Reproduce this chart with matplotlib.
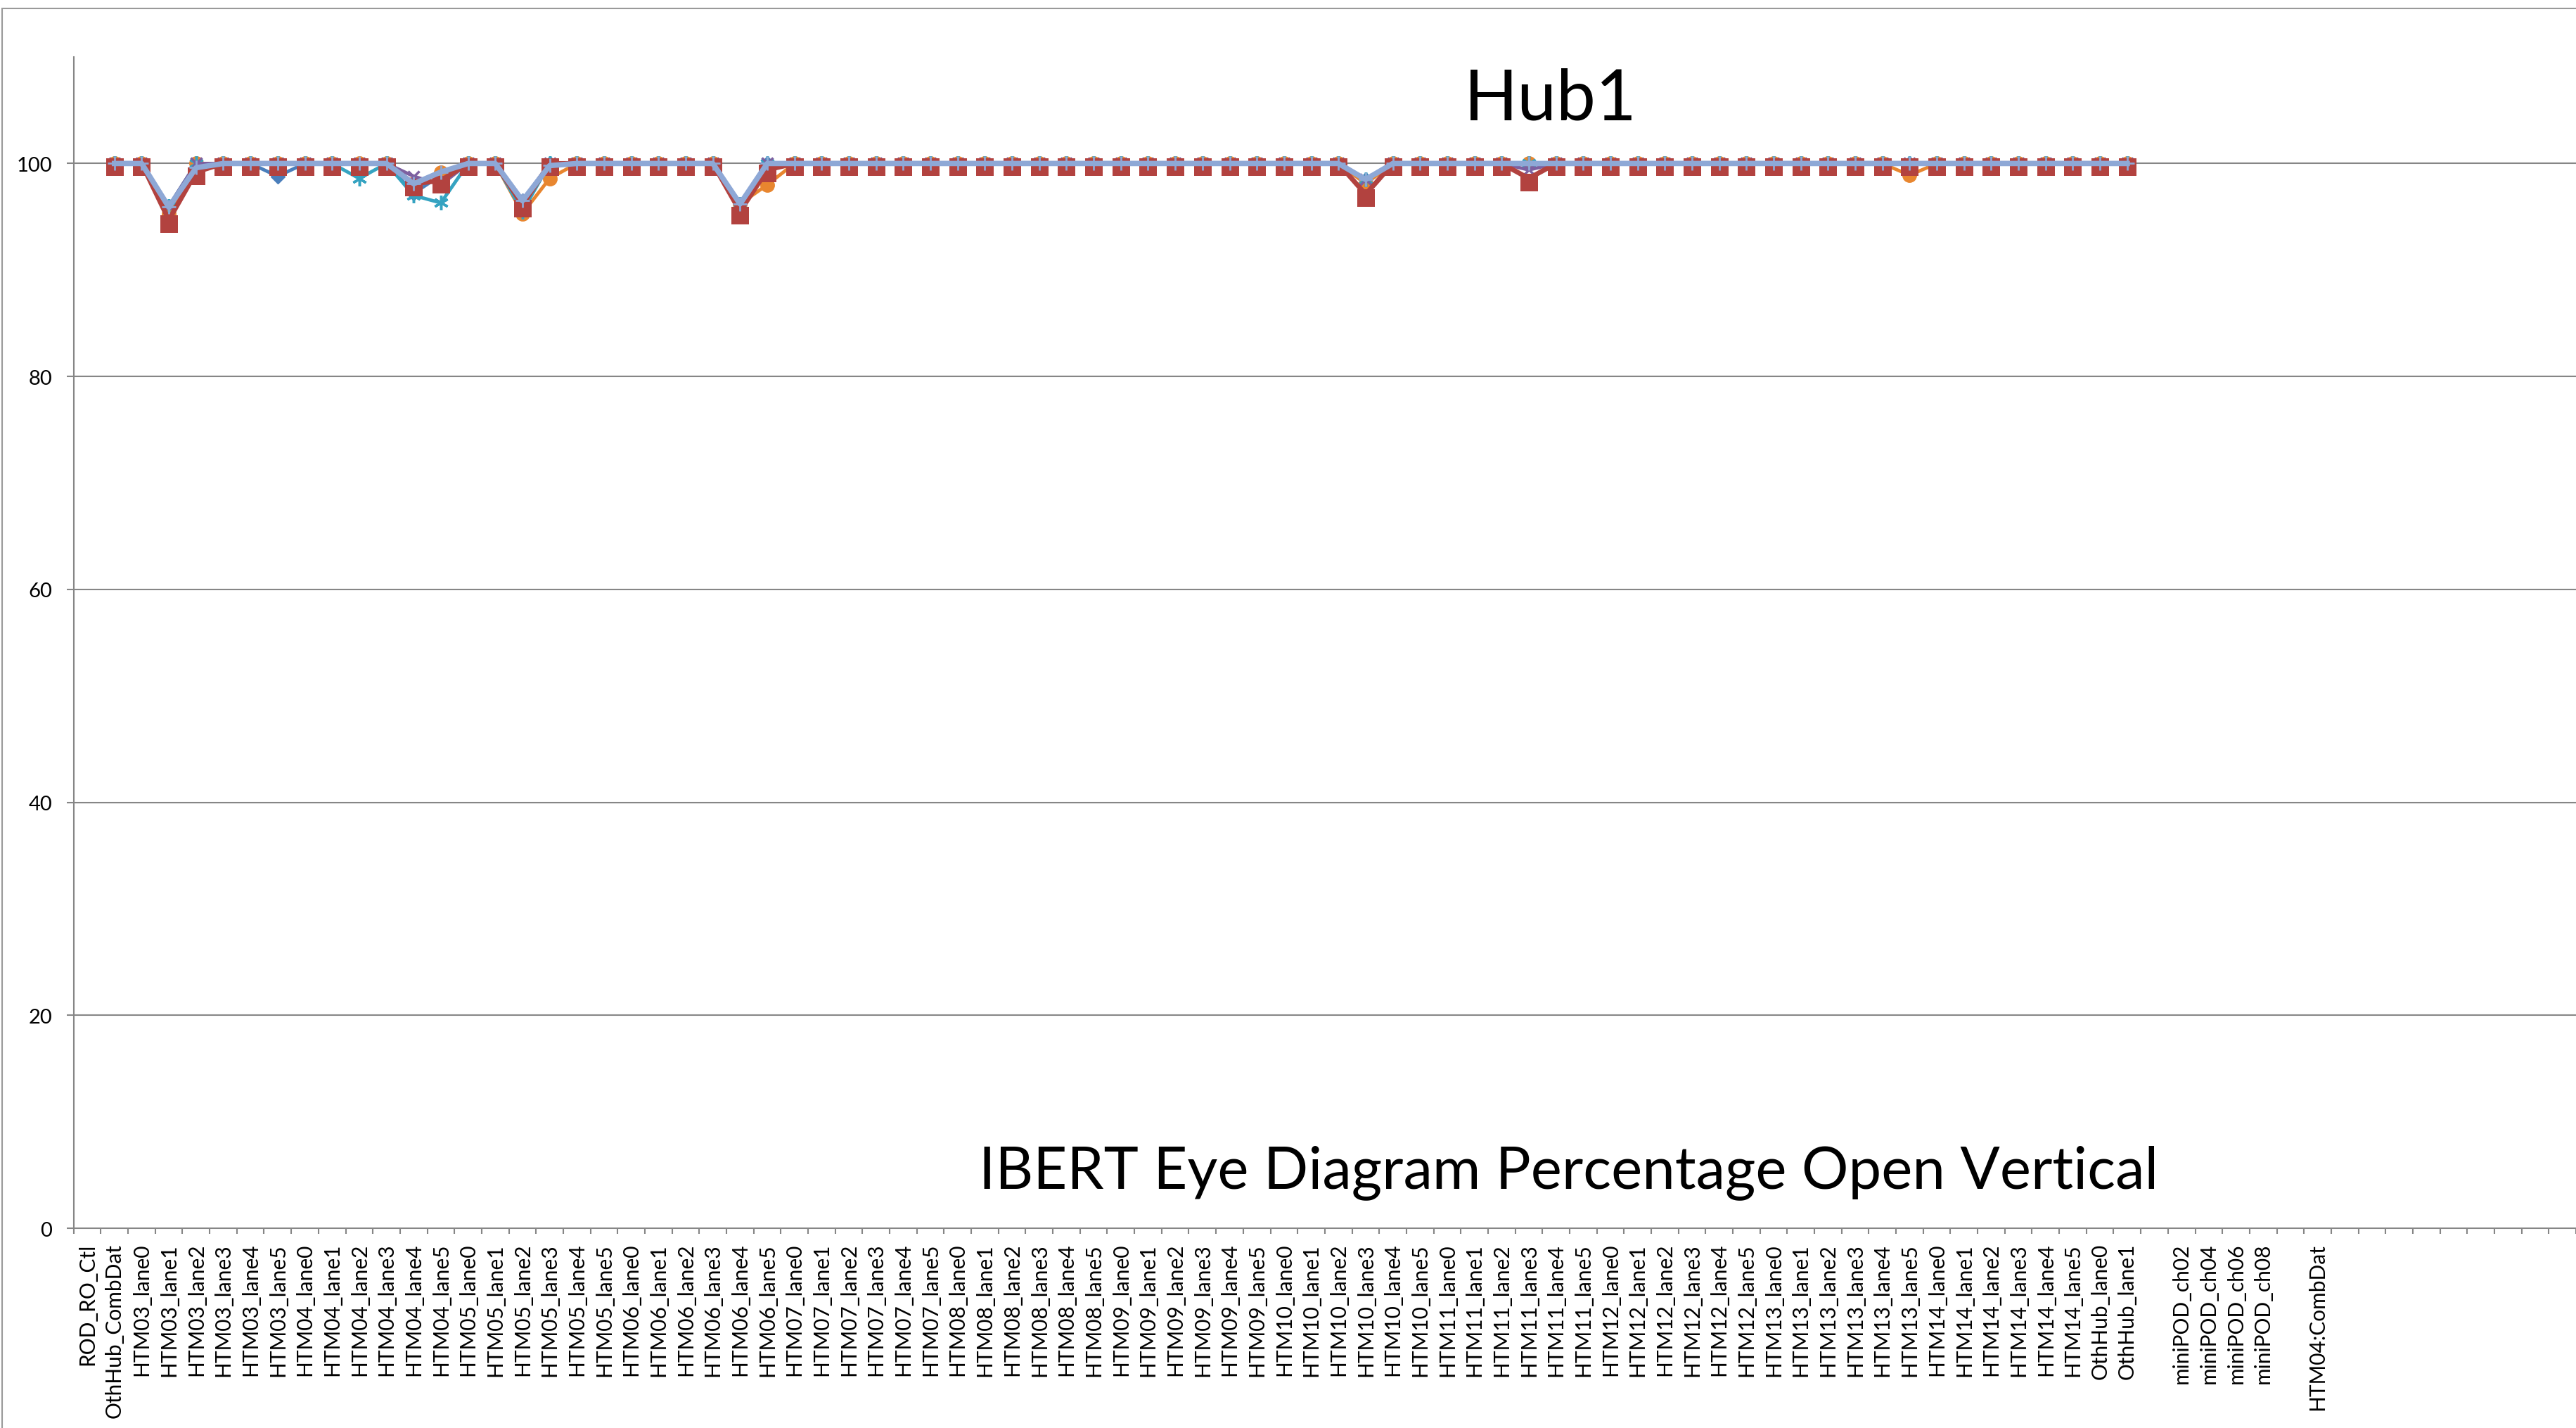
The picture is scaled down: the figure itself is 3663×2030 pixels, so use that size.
import numpy as np
import matplotlib.pyplot as plt
from matplotlib.path import Path
from matplotlib.patches import Rectangle

plt.rcParams['font.family'] = ['Lato', 'DejaVu Sans']

# category axis (blank names are empty categories in the sheet)
categories = [
    'ROD_RO_Ctl', 'OthHub_CombDat',
    'HTM03_lane0', 'HTM03_lane1', 'HTM03_lane2', 'HTM03_lane3', 'HTM03_lane4', 'HTM03_lane5',
    'HTM04_lane0', 'HTM04_lane1', 'HTM04_lane2', 'HTM04_lane3', 'HTM04_lane4', 'HTM04_lane5',
    'HTM05_lane0', 'HTM05_lane1', 'HTM05_lane2', 'HTM05_lane3', 'HTM05_lane4', 'HTM05_lane5',
    'HTM06_lane0', 'HTM06_lane1', 'HTM06_lane2', 'HTM06_lane3', 'HTM06_lane4', 'HTM06_lane5',
    'HTM07_lane0', 'HTM07_lane1', 'HTM07_lane2', 'HTM07_lane3', 'HTM07_lane4', 'HTM07_lane5',
    'HTM08_lane0', 'HTM08_lane1', 'HTM08_lane2', 'HTM08_lane3', 'HTM08_lane4', 'HTM08_lane5',
    'HTM09_lane0', 'HTM09_lane1', 'HTM09_lane2', 'HTM09_lane3', 'HTM09_lane4', 'HTM09_lane5',
    'HTM10_lane0', 'HTM10_lane1', 'HTM10_lane2', 'HTM10_lane3', 'HTM10_lane4', 'HTM10_lane5',
    'HTM11_lane0', 'HTM11_lane1', 'HTM11_lane2', 'HTM11_lane3', 'HTM11_lane4', 'HTM11_lane5',
    'HTM12_lane0', 'HTM12_lane1', 'HTM12_lane2', 'HTM12_lane3', 'HTM12_lane4', 'HTM12_lane5',
    'HTM13_lane0', 'HTM13_lane1', 'HTM13_lane2', 'HTM13_lane3', 'HTM13_lane4', 'HTM13_lane5',
    'HTM14_lane0', 'HTM14_lane1', 'HTM14_lane2', 'HTM14_lane3', 'HTM14_lane4', 'HTM14_lane5',
    'OthHub_lane0', 'OthHub_lane1',
    '', 'miniPOD_ch02', 'miniPOD_ch04', 'miniPOD_ch06', 'miniPOD_ch08', '', 'HTM04:CombDat',
    '', '', '', '', '', '', '', '', '',
]

nan = np.nan
# one row per HTM module (lane0..lane5)
s_blue = [nan, 100,
          100, 96.0, 99.6, 100, 100, 98.8,
          100, 100, 100, 100, 97.2, 98.9,
          100, 100, 96.5, 100, 100, 100,
          100, 100, 100, 100, 96.2, 100,
          100, 100, 100, 100, 100, 100,
          100, 100, 100, 100, 100, 100,
          100, 100, 100, 100, 100, 100,
          100, 100, 100, 98.5, 100, 100,
          100, 100, 100, 100, 100, 100,
          100, 100, 100, 100, 100, 100,
          100, 100, 100, 100, 100, 100,
          100, 100, 100, 100, 100, 100,
          100, 100]
s_orange = [nan, 100,
            100, 95.3, 100, 100, 100, 100,
            100, 100, 100, 100, 98.1, 99.2,
            100, 100, 95.3, 98.6, 100, 100,
            100, 100, 100, 100, 96.2, 98.0,
            100, 100, 100, 100, 100, 100,
            100, 100, 100, 100, 100, 100,
            100, 100, 100, 100, 100, 100,
            100, 100, 100, 98.1, 100, 100,
            100, 100, 100, 100, 100, 100,
            100, 100, 100, 100, 100, 100,
            100, 100, 100, 100, 100, 98.9,
            100, 100, 100, 100, 100, 100,
            100, 100]
s_aqua = [nan, 100,
          100, 96.0, 100, 100, 100, 100,
          100, 100, 98.6, 100, 97.0, 96.3,
          100, 100, 95.5, 100, 100, 100,
          100, 100, 100, 100, 96.2, 100,
          100, 100, 100, 100, 100, 100,
          100, 100, 100, 100, 100, 100,
          100, 100, 100, 100, 100, 100,
          100, 100, 100, 98.5, 100, 100,
          100, 100, 100, 100, 100, 100,
          100, 100, 100, 100, 100, 100,
          100, 100, 100, 100, 100, 100,
          100, 100, 100, 100, 100, 100,
          100, 100]
s_purple = [nan, 100,
            100, 96.0, 100, 100, 100, 100,
            100, 100, 100, 100, 98.8, 98.0,
            100, 100, 96.5, 100, 100, 100,
            100, 100, 100, 100, 96.2, 100,
            100, 100, 100, 100, 100, 100,
            100, 100, 100, 100, 100, 100,
            100, 100, 100, 100, 100, 100,
            100, 100, 100, 98.5, 100, 100,
            100, 100, 100, 99.4, 100, 100,
            100, 100, 100, 100, 100, 100,
            100, 100, 100, 100, 100, 100,
            100, 100, 100, 100, 100, 100,
            100, 100]
s_red = [nan, 100,
         100, 94.7, 99.2, 100, 100, 100,
         100, 100, 100, 100, 98.1, 98.4,
         100, 100, 96.1, 100, 100, 100,
         100, 100, 100, 100, 95.5, 99.4,
         100, 100, 100, 100, 100, 100,
         100, 100, 100, 100, 100, 100,
         100, 100, 100, 100, 100, 100,
         100, 100, 100, 97.1, 100, 100,
         100, 100, 100, 98.6, 100, 100,
         100, 100, 100, 100, 100, 100,
         100, 100, 100, 100, 100, 100,
         100, 100, 100, 100, 100, 100,
         100, 100]
s_light = [nan, 100,
           100, 95.9, 99.6, 100, 100, 100,
           100, 100, 100, 100, 98.1, 99.2,
           100, 100, 96.5, 99.8, 100, 100,
           100, 100, 100, 100, 96.2, 100,
           100, 100, 100, 100, 100, 100,
           100, 100, 100, 100, 100, 100,
           100, 100, 100, 100, 100, 100,
           100, 100, 100, 98.5, 100, 100,
           100, 100, 100, 100, 100, 100,
           100, 100, 100, 100, 100, 100,
           100, 100, 100, 100, 100, 100,
           100, 100, 100, 100, 100, 100,
           100, 100]

yticks = [0, 20, 40, 60, 80, 100]

# square marker drawn with a drop below the point, like the excel style
sq = Path([(-12.5, 6.7), (12.5, 6.7), (12.5, -18.3), (-12.5, -18.3), (-12.5, 6.7)],
          [Path.MOVETO, Path.LINETO, Path.LINETO, Path.LINETO, Path.CLOSEPOLY])

DPI = 100
fig = plt.figure(figsize=(36.63, 20.31), dpi=DPI)
ax = fig.add_axes([0.0286, 0.1398, 0.9714, 0.8198])

x = np.arange(len(s_light))
ax.plot(x, s_blue, color='#4A7EBB', lw=3.5, marker='D', ms=10, zorder=3)
ax.plot(x, s_orange, color='#E8862F', lw=3.5, marker='o', ms=14, zorder=3.1)
ax.plot(x, s_aqua, color='#35A3C1', lw=3.5, marker=(6, 2, 0), ms=15, mew=2.5, zorder=3.2)
ax.plot(x, s_purple, color='#7D60A0', lw=3.5, marker='x', ms=12, mew=2.5, zorder=3.3)
ax.plot(x, s_red, color='#B2423F', lw=5, marker=sq, ms=2 * 18.3 * 72 / DPI, mew=0, zorder=3.4)
ax.plot(x, s_light, color='#8EA8D6', lw=5.5, marker='+', ms=14, mew=2, zorder=3.5)

ax.set_xlim(-0.5, 91.2)
ax.set_ylim(0, 110)
ax.set_yticks(yticks)
ax.set_yticklabels([str(v) for v in yticks], fontsize=21)
for v in yticks[1:]:
    ax.axhline(v, color='#868686', lw=1.5, zorder=1)

ax.set_xticks(np.arange(len(categories)))
ax.set_xticklabels(categories, rotation=90, fontsize=21.5, va='top', ha='center')
ax.set_xticks(np.arange(len(categories) + 1) - 0.5, minor=True)
ax.tick_params(axis='x', which='major', length=0, pad=15)
ax.tick_params(axis='x', which='minor', length=6, width=1.5, color='#868686', direction='out')
ax.tick_params(axis='y', length=7, width=1.5, color='#868686', pad=15)

for side in ['top', 'right']:
    ax.spines[side].set_visible(False)
for side in ['left', 'bottom']:
    ax.spines[side].set_color('#868686')
    ax.spines[side].set_linewidth(1.5)

ax.text(0.602, 0.93, 'Hub1', transform=fig.transFigure, fontsize=72,
        ha='center', va='center')
ax.text(0.609, 0.179, 'IBERT Eye Diagram Percentage Open Vertical', transform=fig.transFigure,
        fontsize=60, ha='center', va='center')

# chart area border, cut off on the right and bottom
fig.patches.append(Rectangle((0.0009, -0.1), 1.2, 1.0937, transform=fig.transFigure,
                             fill=False, edgecolor='#9A9A9A', lw=1.5))

fig.savefig('out.png', dpi=DPI)
